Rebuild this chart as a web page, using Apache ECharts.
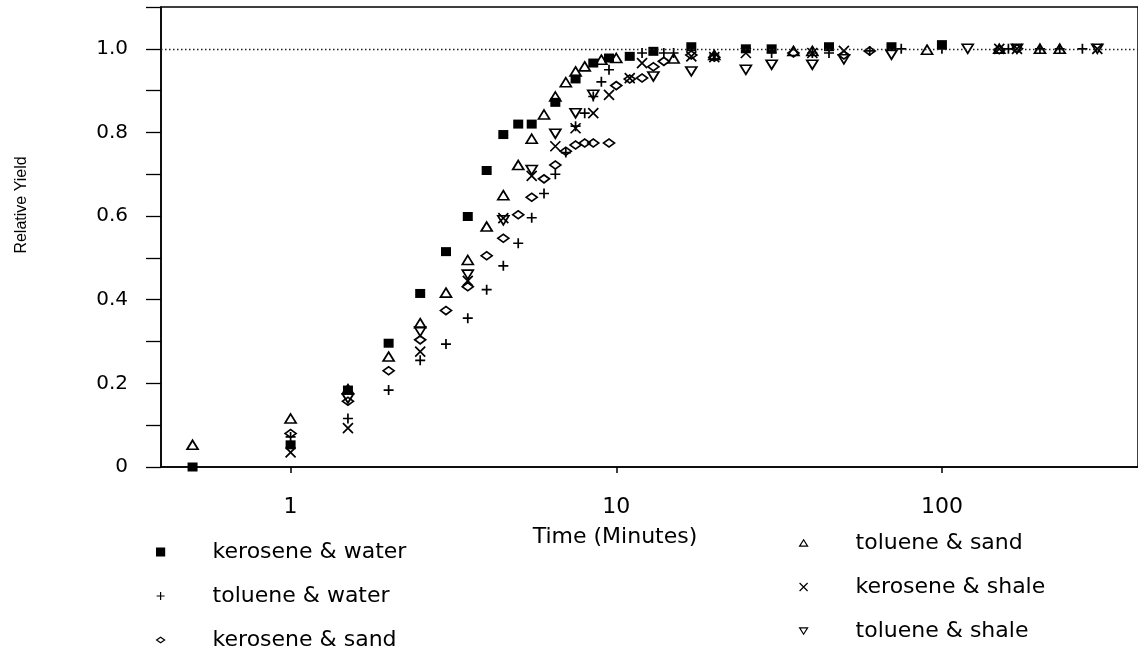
<!DOCTYPE html>
<html>
<head>
<meta charset="utf-8">
<script src="https://cdn.jsdelivr.net/npm/echarts@6.0.0/dist/echarts.min.js"></script>
<style>
html,body{margin:0;padding:0;background:#fff;}
#chart{width:1138px;height:654px;}
</style>
</head>
<body>
<div id="chart"></div>
<script>
// ---- data ----
const seriesNames = ['kerosene & water', 'toluene & water', 'kerosene & sand',
                     'toluene & sand', 'kerosene & shale', 'toluene & shale'];

const kwTime  = [0.5, 1, 1.5, 2, 2.5, 3, 3.5, 4, 4.5, 5, 5.5, 6.5, 7.5, 8.5, 9.5, 11, 13, 17, 25, 30, 45, 70, 100];
const kwYield = [0.0, 0.053, 0.184, 0.296, 0.415, 0.515, 0.599, 0.709, 0.795, 0.82, 0.82, 0.872, 0.928, 0.966, 0.978, 0.982, 0.994, 1.005, 1.0, 1.0, 1.005, 1.005, 1.01];

const twTime  = [1, 1.5, 2, 2.5, 3, 3.5, 4, 4.5, 5, 5.5, 6, 6.5, 7, 7.5, 8, 8.5, 9, 9.5, 12, 14, 15, 20, 30, 40, 45, 60, 75, 100, 160, 200, 230, 270];
const twYield = [0.072, 0.116, 0.184, 0.255, 0.294, 0.356, 0.424, 0.481, 0.535, 0.596, 0.654, 0.70, 0.752, 0.815, 0.846, 0.886, 0.921, 0.95, 0.99, 0.99, 0.99, 0.985, 0.99, 0.99, 0.99, 0.995, 1.0, 1.0, 1.0, 1.0, 1.0, 1.0];

const ksTime  = [1, 1.5, 2, 2.5, 3, 3.5, 4, 4.5, 5, 5.5, 6, 6.5, 7, 7.5, 8, 8.5, 9.5, 10, 11, 12, 13, 14, 17, 20, 35, 50, 60, 150, 170];
const ksYield = [0.08, 0.157, 0.23, 0.304, 0.374, 0.431, 0.505, 0.547, 0.603, 0.645, 0.689, 0.722, 0.755, 0.77, 0.775, 0.775, 0.775, 0.912, 0.928, 0.93, 0.957, 0.97, 0.985, 0.98, 0.99, 0.985, 0.995, 0.998, 1.0];

const tsTime  = [0.5, 1, 1.5, 2, 2.5, 3, 3.5, 4, 4.5, 5, 5.5, 6, 6.5, 7, 7.5, 8, 9, 10, 15, 20, 35, 40, 90, 150, 200, 230];
const tsYield = [0.053, 0.116, 0.186, 0.264, 0.344, 0.417, 0.495, 0.575, 0.65, 0.722, 0.785, 0.843, 0.886, 0.92, 0.946, 0.958, 0.974, 0.978, 0.977, 0.985, 0.995, 0.995, 0.998, 1.0, 1.0, 1.0];

const kshTime  = [1, 1.5, 2.5, 3.5, 4.5, 5.5, 6.5, 7.5, 8.5, 9.5, 11, 12, 17, 20, 25, 40, 50, 150, 170, 300];
const kshYield = [0.035, 0.093, 0.276, 0.445, 0.595, 0.696, 0.767, 0.81, 0.846, 0.89, 0.93, 0.966, 0.982, 0.98, 0.99, 0.99, 0.995, 1.0, 1.0, 1.0];

const tshTime  = [1.5, 2.5, 3.5, 4.5, 5.5, 6.5, 7.5, 8.5, 13, 17, 25, 30, 40, 50, 70, 120, 170, 300];
const tshYield = [0.164, 0.324, 0.46, 0.59, 0.71, 0.797, 0.846, 0.89, 0.934, 0.946, 0.95, 0.962, 0.962, 0.975, 0.986, 1.0, 1.0, 1.0];

const xTickLabels = [1, 10, 100];
const yTickLabels = [0, 0.2, 0.4, 0.6, 0.8, 1.0];
const referenceYield = 1.0;

// ---- build ----
const zip = (t, y) => t.map((v, i) => [v, y[i]]);

const SYM = {
  square:  'path://M0,0L10,0L10,10L0,10Z',
  plus:    'path://M0,5L10,5M5,0L5,10',
  diamond: 'path://M0,4L6,0L12,4L6,8Z',
  triUp:   'path://M5,0L10,8L0,8Z',
  cross:   'path://M0,0L10,10M10,0L0,10',
  triDown: 'path://M0,0L10,0L5,8Z'
};

function mk(name, t, y, symbol, size, filled) {
  return {
    name: name,
    type: 'scatter',
    data: zip(t, y),
    symbol: symbol,
    symbolSize: size,
    symbolKeepAspect: false,
    clip: false,
    silent: true,
    animation: false,
    itemStyle: {
      color: filled ? '#000' : 'transparent',
      borderColor: '#000',
      borderWidth: filled ? 0 : 1.7,
      opacity: 1
    },
    emphasis: { disabled: true }
  };
}

const series = [
  mk(seriesNames[0], kwTime, kwYield, SYM.square, [10, 9], true),
  mk(seriesNames[1], twTime, twYield, SYM.plus, [10, 10], false),
  mk(seriesNames[2], ksTime, ksYield, SYM.diamond, [11, 8], false),
  mk(seriesNames[3], tsTime, tsYield, SYM.triUp, [11, 9], false),
  mk(seriesNames[4], kshTime, kshYield, SYM.cross, [10, 10], false),
  mk(seriesNames[5], tshTime, tshYield, SYM.triDown, [11, 9], false)
];
series[0].markLine = {
  silent: true,
  symbol: 'none',
  label: { show: false },
  animation: false,
  lineStyle: { color: '#222', width: 1.3, type: [1.5, 2.5] },
  data: [{ yAxis: referenceYield }]
};

const iconFor = [SYM.square, SYM.plus, SYM.diamond, SYM.triUp, SYM.cross, SYM.triDown];
function legendData(idx) {
  return idx.map(i => ({ name: seriesNames[i], icon: iconFor[i] }));
}
const legendCommon = {
  orient: 'vertical',
  align: 'left',
  padding: 0,
  itemWidth: 8,
  itemHeight: 8,
  itemGap: 22,
  selectedMode: false,
  symbolKeepAspect: true,
  itemStyle: { borderWidth: 1.2, borderColor: '#000' },
  textStyle: { fontFamily: 'DejaVu Sans', fontSize: 22, color: '#000', lineHeight: 22, padding: [0, 0, 0, 43] }
};

const option = {
  backgroundColor: '#fff',
  animation: false,
  grid: {
    left: 161, right: -4, top: 7, bottom: 187,
    show: true, borderColor: '#000', borderWidth: 1.5, backgroundColor: 'transparent'
  },
  xAxis: {
    type: 'log',
    logBase: 10,
    min: 0.4,
    max: 400,
    axisLine: { show: true, lineStyle: { color: '#000', width: 1.5 } },
    axisTick: { show: true, length: 6, inside: false, lineStyle: { color: '#000', width: 1.5 } },
    minorTick: { show: false },
    splitLine: { show: false },
    axisLabel: {
      margin: 29,
      fontFamily: 'DejaVu Sans',
      fontSize: 22,
      color: '#000',
      showMinLabel: false,
      showMaxLabel: false,
      formatter: function (v) {
        for (const t of xTickLabels) {
          if (Math.abs(v - t) < 1e-6 * t) return String(t);
        }
        return '';
      }
    }
  },
  yAxis: {
    type: 'value',
    min: 0,
    max: 1.1,
    interval: 0.1,
    axisLine: { show: true, onZero: false, lineStyle: { color: '#000', width: 1.5 } },
    axisTick: { show: true, length: 15, inside: false, lineStyle: { color: '#000', width: 1.3 } },
    splitLine: { show: false },
    axisLabel: {
      margin: 33,
      fontFamily: 'DejaVu Sans',
      fontSize: 20,
      color: '#000',
      formatter: function (v) {
        for (const t of yTickLabels) {
          if (Math.abs(v - t) < 1e-6) return t === 0 ? '0' : t.toFixed(1);
        }
        return '';
      }
    }
  },
  legend: [
    Object.assign({}, legendCommon, { left: 156, top: 541, data: legendData([0, 1, 2]) }),
    Object.assign({}, legendCommon, { left: 799, top: 532, data: legendData([3, 4, 5]) })
  ],
  graphic: [
    {
      type: 'text', x: 615, y: 537, silent: true,
      style: { text: 'Time (Minutes)', font: '22px "DejaVu Sans"', fill: '#000',
               align: 'center', verticalAlign: 'middle', textAlign: 'center', textVerticalAlign: 'middle' }
    },
    {
      type: 'text', x: 22, y: 205, rotation: Math.PI / 2, silent: true,
      style: { text: 'Relative Yield', font: '16px "Liberation Sans"', fill: '#000',
               align: 'center', verticalAlign: 'middle', textAlign: 'center', textVerticalAlign: 'middle' }
    }
  ],
  series: series
};

const chart = echarts.init(document.getElementById('chart'), null, { renderer: 'canvas' });
chart.setOption(option);
</script>
</body>
</html>
